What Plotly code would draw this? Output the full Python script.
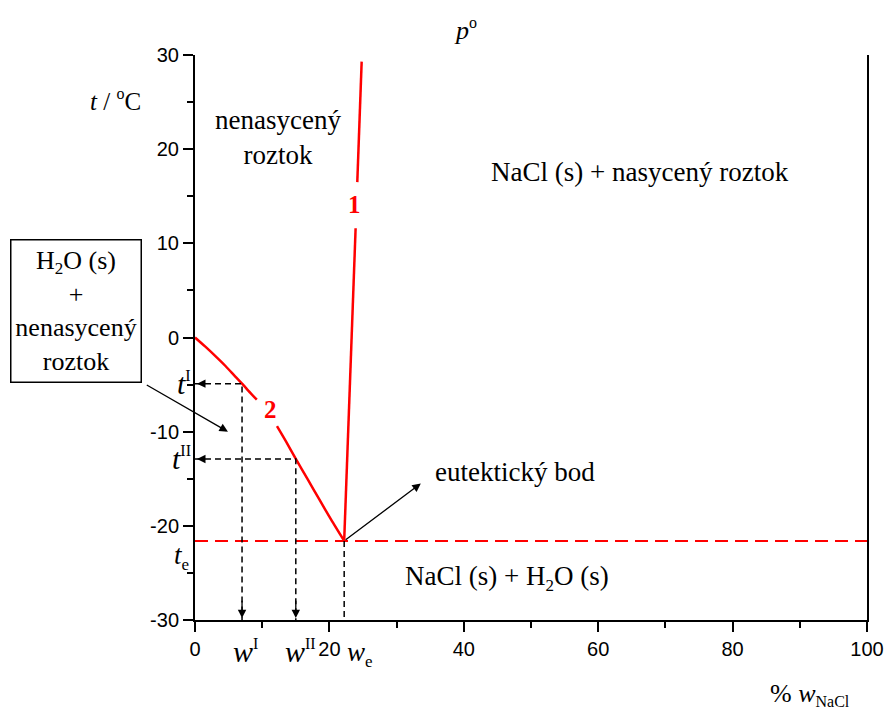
import plotly.graph_objects as go

# ---- data ----
w_e = 22.2          # eutectic composition, % NaCl
t_e = -21.6         # eutectic temperature, degC

curve1_w = [22.2, 23.9, None, 24.15, 24.8]
curve1_t = [-21.6, 11.6, None, 16.5, 29.3]

curve2_w = [0.0, 1.5, 3.0, 4.5, 6.0, 7.0, 8.2, 9.2, None,
            12.2, 13.6, 15.0, 16.8, 18.5, 20.3, 22.2]
curve2_t = [0.0, -0.95, -1.95, -3.0, -4.15, -4.9, -5.85, -6.6, None,
            -9.4, -11.1, -12.9, -15.1, -17.2, -19.4, -21.6]

wI, tI = 7.0, -4.9
wII, tII = 15.0, -12.9

x_ticks = [0, 20, 40, 60, 80, 100]
x_ticktext = ["0", "20", "40", "60", "80", "100"]
y_ticks = [-30, -20, -10, 0, 10, 20, 30]
y_ticktext = ["-30", "-20", "-10", "0", "10", "20", "30"]

SERIF = "Liberation Serif, Times New Roman, serif"
SANS = "Liberation Sans, Arial, sans-serif"
RED = "#FF0000"
XR = (0, 100)
YR = (-30, 30)

fig = go.Figure()

fig.add_trace(go.Scatter(x=[0, 100], y=[t_e, t_e], mode="lines",
                         line=dict(color=RED, width=2, dash="13px,7px"),
                         hoverinfo="skip", showlegend=False))
fig.add_trace(go.Scatter(x=curve1_w, y=curve1_t, mode="lines",
                         line=dict(color=RED, width=2.5), connectgaps=False,
                         showlegend=False))
fig.add_trace(go.Scatter(x=curve2_w, y=curve2_t, mode="lines",
                         line=dict(color=RED, width=2.5, shape="spline", smoothing=0.6),
                         connectgaps=False, showlegend=False))

blk = dict(color="black", width=1.5, dash="6px,4px")
for (w, t) in [(wI, tI), (wII, tII)]:
    fig.add_trace(go.Scatter(x=[0, w, w], y=[t, t, -30], mode="lines",
                             line=blk, showlegend=False, hoverinfo="skip"))
fig.add_trace(go.Scatter(x=[w_e, w_e], y=[t_e, -30], mode="lines",
                         line=blk, showlegend=False, hoverinfo="skip"))

ann = []

def px(x):
    return (x - XR[0]) / (XR[1] - XR[0])

def py(y):
    return (y - YR[0]) / (YR[1] - YR[0])

def txt(x, y, text, size=27, color="black", xanchor="center", yanchor="middle", **kw):
    d = dict(x=px(x), y=py(y), xref="paper", yref="paper", text=text,
             showarrow=False,
             font=dict(family=SERIF, size=size, color=color),
             xanchor=xanchor, yanchor=yanchor)
    d.update(kw)
    ann.append(d)

def arrow(x0, y0, x1, y1, width=1.3, size=1.3):
    ann.append(dict(x=x1, y=y1, ax=x0, ay=y0, xref="x", yref="y",
                    axref="x", ayref="y", text="", showarrow=True,
                    arrowhead=2, arrowsize=size, arrowwidth=width,
                    arrowcolor="black"))

for (w, t) in [(wI, tI), (wII, tII)]:
    arrow(1.6, t, 0.3, t)
    arrow(w, -27.8, w, -29.8)

arrow(-7.4, -4.95, 4.9, -10.0)
arrow(w_e, t_e, 33.6, -15.5)

def sup(s, size=17):
    return f"<sup><span style='font-size:{size}px'>{s}</span></sup>"

def sub(s, size=17):
    return f"<sub><span style='font-size:{size}px'>{s}</span></sub>"

txt(23.7, 14.1, "<b>1</b>", size=25, color=RED)
txt(11.2, -7.6, "<b>2</b>", size=25, color=RED)

txt(40.2, 32.7, "<i>p</i>" + sup("o", 16), size=26)
txt(-11.9, 25.2, "<i>t</i> / " + sup("o", 16) + "C", size=25)
txt(12.3, 21.2, "nenasycený<br>roztok", size=27)
txt(66.2, 17.6, "NaCl (s) + nasycený roztok", size=27)
txt(47.6, -14.3, "eutektický bod", size=27)
txt(46.4, -25.5, "NaCl (s) + H" + sub("2", 17) + "O (s)", size=27)
txt(-17.7, 2.8, "H" + sub("2", 17) + "O (s)<br>+<br>nenasycený<br>roztok", size=26,
    bordercolor="black", borderwidth=1.5, bgcolor="white", borderpad=2,
    width=125, height=137)

txt(-0.3, tI, "<i>t</i>" + sup("I", 16), size=30, xanchor="right")
txt(-0.3, tII, "<i>t</i>" + sup("II", 16), size=30, xanchor="right")
txt(-0.6, -23.3, "<i>t</i>" + sub("e", 17), size=27, xanchor="right")
txt(7.5, -33.3, "<i>w</i>" + sup("I", 16), size=30)
txt(15.7, -33.3, "<i>w</i>" + sup("II", 16), size=30)
txt(24.6, -33.6, "<i>w</i>" + sub("e", 17), size=27)
txt(91.5, -37.9, "% <i>w</i>" + sub("NaCl", 16), size=26)

axis_common = dict(showline=True, linewidth=2, linecolor="black",
                   ticks="outside", ticklen=10, tickwidth=2, tickcolor="black",
                   showgrid=False, zeroline=False, automargin=False,
                   tickfont=dict(family=SANS, size=20, color="black"))

fig.update_layout(
    width=886, height=713, autosize=False,
    margin=dict(l=195, r=19, t=55, b=93, autoexpand=False),
    plot_bgcolor="white", paper_bgcolor="white",
    xaxis=dict(range=list(XR), tickvals=x_ticks, ticktext=x_ticktext,
               minor=dict(tickvals=[10, 30, 50, 70, 90], ticks="outside",
                          ticklen=6, tickwidth=2, tickcolor="black"),
               **axis_common),
    yaxis=dict(range=list(YR), tickvals=y_ticks, ticktext=y_ticktext, mirror=True,
               minor=dict(tickvals=[-25, -15, -5, 5, 15, 25], ticks="outside",
                          ticklen=6, tickwidth=2, tickcolor="black"),
               **axis_common),
    annotations=ann,
    showlegend=False,
)

fig.write_html("out.html", config={"displayModeBar": False},
               post_script="document.body.style.margin='0';document.body.style.overflow='hidden';")
